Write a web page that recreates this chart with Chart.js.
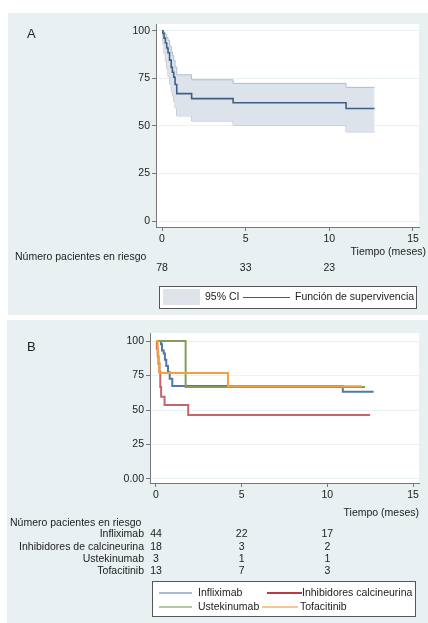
<!DOCTYPE html>
<html>
<head>
<meta charset="utf-8">
<script src="https://cdn.jsdelivr.net/npm/chart.js@4.4.0/dist/chart.umd.min.js"></script>
<style>
body { margin: 0; background: #fff; width: 428px; height: 623px; overflow: hidden; position: relative; }
.panel { position: absolute; background: #e8f0f2; }
#panelA { left: 8px; top: 13px; width: 420px; height: 302px; }
#panelB { left: 7px; top: 320px; width: 421px; height: 303px; }
canvas { display: block; }
</style>
</head>
<body>
<div class="panel" id="panelA"><canvas id="chartA" width="420" height="302"></canvas></div>
<div class="panel" id="panelB"><canvas id="chartB" width="421" height="303"></canvas></div>
<script>
// ---- data ----
const xTicks = [0, 5, 10, 15];
const yTicks = [0, 25, 50, 75, 100];
const yLabelsA = ["0", "25", "50", "75", "100"];
const yLabelsB = ["0.00", "25", "50", "75", "100"];
const riskTimes = [0, 5, 10];

// Panel A: Kaplan-Meier global con IC 95%
const tiempoA = [0, 0.05, 0.12, 0.2, 0.28, 0.36, 0.45, 0.55, 0.62, 0.7, 0.78, 0.88, 1.77, 4.25, 11.0, 12.7];
const survA = [100, 98.7, 96.2, 93.6, 91.0, 88.5, 84.6, 80.8, 78.2, 75.6, 71.8, 67.0, 64.4, 62.2, 59.2, 59.2];
const ciUpperA = [100, 100, 99, 98, 96.5, 95, 92, 89, 87, 84.5, 81, 76.9, 74.3, 72.4, 70.3, 70.3];
const ciLowerA = [100, 93, 88, 84, 80, 76, 72, 68, 66, 63, 59.5, 55.3, 52.6, 50.4, 46.9, 46.9];
const riskA = [78, 33, 23];

// Panel B: por tratamiento
const groupLabels = ["Infliximab", "Inhibidores de calcineurina", "Ustekinumab", "Tofacitinib"];
const legendLabelsB = ["Infliximab", "Inhibidores calcineurina", "Ustekinumab", "Tofacitinib"];
const tInflix = [0, 0.29, 0.35, 0.45, 0.52, 0.6, 0.7, 0.8, 0.95, 10.9, 12.7];
const sInflix = [100, 97.7, 93.2, 90.9, 86.4, 81.8, 77.3, 72.7, 67.4, 63.3, 63.3];
const tInhib = [0, 0.05, 0.1, 0.15, 0.2, 0.25, 0.3, 0.5, 1.88, 12.5];
const sInhib = [100, 94.4, 88.9, 83.3, 77.8, 66.7, 59.6, 53.6, 46.4, 46.4];
const tUstek = [0, 1.73, 12.2];
const sUstek = [100, 66.7, 66.7];
const tTofa = [0, 0.1, 0.13, 0.2, 4.2, 12.0];
const sTofa = [100, 92.3, 84.6, 76.9, 67.3, 67.3];
const riskB = [[44, 22, 17], [18, 3, 2], [3, 1, 1], [13, 7, 3]];

// ---- styling ----
const FONT = '"Liberation Sans", Arial, sans-serif';
const FS = 10.5;
const TXT = "#222";
const lineColorsB = ["#4d7aa8", "#c4646c", "#7f9e5c", "#f0a33c"];
const legendColorsB = ["#a6bcd4", "#b83a48", "#b4c8a0", "#f6c890"];

const pts = (t, s) => t.map((x, i) => ({ x, y: s[i] }));

const whiteArea = {
	id: "whiteArea",
	beforeDraw(chart) {
		const { ctx, chartArea: a } = chart;
		ctx.save();
		ctx.fillStyle = "#fff";
		ctx.fillRect(a.left, a.top, a.right - a.left, a.bottom - a.top);
		ctx.restore();
	},
};

function scalesFor(xmin, xmax, ymin, ymax, yLabels, yWidth, xHeight) {
	return {
		x: {
			type: "linear",
			min: xmin,
			max: xmax,
			afterBuildTicks: (s) => { s.ticks = xTicks.map((v) => ({ value: v })); },
			afterFit: (s) => { s.height = xHeight; },
			ticks: { color: TXT, font: { family: FONT, size: FS }, padding: 2, maxRotation: 0 },
			grid: { drawOnChartArea: false, tickLength: 4, tickColor: "#777" },
			border: { color: "#777", width: 1 },
		},
		y: {
			type: "linear",
			min: ymin,
			max: ymax,
			afterBuildTicks: (s) => { s.ticks = yTicks.map((v) => ({ value: v })); },
			afterFit: (s) => { s.width = yWidth; },
			ticks: {
				color: TXT,
				font: { family: FONT, size: FS },
				padding: 2,
				callback: (v) => yLabels[yTicks.indexOf(v)],
			},
			grid: { color: "#eaf2f3", tickLength: 4, tickColor: "#777" },
			border: { color: "#777", width: 1 },
		},
	};
}

function text(ctx, s, x, y, align, size) {
	ctx.font = `${size || FS}px ${FONT}`;
	ctx.fillStyle = TXT;
	ctx.textAlign = align || "left";
	ctx.textBaseline = "middle";
	ctx.fillText(s, x, y);
}

// ---- Panel A ----
const extrasA = {
	id: "extrasA",
	afterDraw(chart) {
		const ctx = chart.ctx;
		const xs = chart.scales.x;
		ctx.save();
		text(ctx, "A", 19, 21, "left", 13);
		text(ctx, "Tiempo (meses)", 418, 239, "right");
		text(ctx, "Número pacientes en riesgo", 7, 244, "left");
		riskTimes.forEach((t, i) => text(ctx, String(riskA[i]), xs.getPixelForValue(t), 255.5, "center"));
		// legend
		ctx.fillStyle = "#fff";
		ctx.fillRect(151, 273, 257, 22);
		ctx.strokeStyle = "#555";
		ctx.lineWidth = 1;
		ctx.strokeRect(151.5, 273.5, 257, 22);
		ctx.fillStyle = "#dfe4eb";
		ctx.fillRect(155, 276, 37, 16);
		text(ctx, "95% CI", 197, 284.5, "left");
		ctx.strokeStyle = "#3e5f84";
		ctx.lineWidth = 1.2;
		ctx.beginPath();
		ctx.moveTo(235, 284.5);
		ctx.lineTo(282, 284.5);
		ctx.stroke();
		text(ctx, "Función de supervivencia", 287, 284.5, "left");
		ctx.restore();
	},
};

new Chart(document.getElementById("chartA"), {
	type: "line",
	data: {
		datasets: [
			{
				label: "Función de supervivencia",
				data: pts(tiempoA, survA),
				borderColor: "#3e5f84",
				borderWidth: 1.6,
				stepped: true,
				pointRadius: 0,
				fill: false,
			},
			{
				label: "95% CI superior",
				data: pts(tiempoA, ciUpperA),
				borderColor: "#aebccb",
				borderWidth: 1,
				backgroundColor: "#dde3ea",
				stepped: true,
				pointRadius: 0,
				fill: "+1",
			},
			{
				label: "95% CI inferior",
				data: pts(tiempoA, ciLowerA),
				borderColor: "#aebccb",
				borderWidth: 1,
				stepped: true,
				pointRadius: 0,
				fill: false,
			},
		],
	},
	options: {
		responsive: false,
		animation: false,
		layout: { padding: { left: 0, top: 11, right: 9, bottom: 0 } },
		scales: scalesFor(-0.36, 15.36, -3.1, 103.6, yLabelsA, 148, 88),
		plugins: { legend: { display: false }, tooltip: { enabled: false } },
	},
	plugins: [whiteArea, extrasA],
});

// ---- Panel B ----
const extrasB = {
	id: "extrasB",
	afterDraw(chart) {
		const ctx = chart.ctx;
		const xs = chart.scales.x;
		ctx.save();
		text(ctx, "B", 20, 27, "left", 13);
		text(ctx, "Tiempo (meses)", 412, 193.5, "right");
		text(ctx, "Número pacientes en riesgo", 3, 203, "left");
		const rowY = [214.5, 226.7, 238.9, 251];
		groupLabels.forEach((g, r) => {
			text(ctx, g, 137, rowY[r], "right");
			riskTimes.forEach((t, i) => text(ctx, String(riskB[r][i]), xs.getPixelForValue(t), rowY[r], "center"));
		});
		// legend
		ctx.fillStyle = "#fff";
		ctx.fillRect(145, 261, 263, 35);
		ctx.strokeStyle = "#555";
		ctx.lineWidth = 1;
		ctx.strokeRect(145.5, 261.5, 263, 35);
		const items = [
			{ x0: 152, x1: 185, tx: 191, y: 273 },
			{ x0: 260, x1: 295, tx: 295, y: 273 },
			{ x0: 152, x1: 185, tx: 191, y: 287 },
			{ x0: 255, x1: 291, tx: 293, y: 287 },
		];
		items.forEach((it, i) => {
			ctx.strokeStyle = legendColorsB[i];
			ctx.lineWidth = 1.8;
			ctx.beginPath();
			ctx.moveTo(it.x0, it.y);
			ctx.lineTo(it.x1, it.y);
			ctx.stroke();
			text(ctx, legendLabelsB[i], it.tx, it.y, "left");
		});
		ctx.restore();
	},
};

const seriesB = [
	pts(tInflix, sInflix),
	pts(tInhib, sInhib),
	pts(tUstek, sUstek),
	pts(tTofa, sTofa),
];

new Chart(document.getElementById("chartB"), {
	type: "line",
	data: {
		datasets: seriesB.map((d, i) => ({
			label: groupLabels[i],
			data: d,
			borderColor: lineColorsB[i],
			borderWidth: 2,
			stepped: true,
			pointRadius: 0,
			fill: false,
			order: 4 - i, // last group drawn on top
		})),
	},
	options: {
		responsive: false,
		animation: false,
		layout: { padding: { left: 0, top: 13, right: 9, bottom: 0 } },
		scales: scalesFor(-0.35, 15.35, -2.9, 105.8, yLabelsB, 143, 140),
		plugins: { legend: { display: false }, tooltip: { enabled: false } },
	},
	plugins: [whiteArea, extrasB],
});
</script>
</body>
</html>
